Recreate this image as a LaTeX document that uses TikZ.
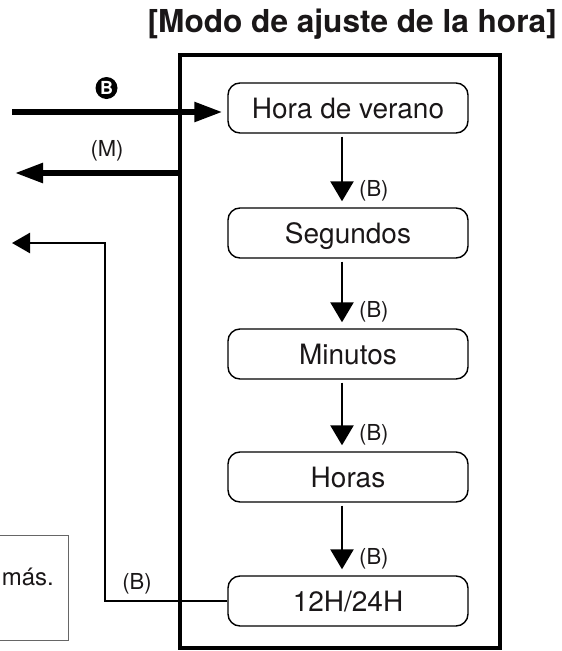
\documentclass[tikz,border=0pt]{standalone}
\usepackage{fontspec}
\setmainfont{TeX Gyre Heros}
\usetikzlibrary{arrows.meta}
\definecolor{ink}{HTML}{1A1718}
\begin{document}
\begin{tikzpicture}[x=1pt,y=-1pt,
  every node/.style={text=ink},
  stepbox/.style={draw=black,line width=1.4pt,rounded corners=12pt,minimum width=240pt,minimum height=50pt,inner sep=0pt,text height=20pt,text depth=0pt,font=\fontsize{28}{30}\selectfont},
  blab/.style={inner sep=0pt,font=\fontsize{22}{24}\selectfont,text height=15.5pt,text depth=0pt},
  midarrow/.style={line width=2.5pt,-{Triangle[length=20pt,width=23pt]}},
  thickarrow/.style={line width=5.5pt,-{Triangle[length=28pt,width=19pt]}},
  retarrow/.style={line width=2.5pt,-{Triangle[length=18pt,width=20pt]}}]
\useasboundingbox (0,0) rectangle (562,651);
% title
\node[anchor=base east,inner sep=0pt,font=\fontsize{31.6}{36}\selectfont\bfseries] (title) at (557,32) {[Modo de ajuste de la hora]};
% frame
\node[draw=black,line width=4pt,minimum width=320pt,minimum height=593pt,inner sep=0pt] (frame) at (340,351.5) {};
% note box (cut off at left)
\draw[draw=black!60,line width=1pt] (-10,535) -- (68,535) -- (68,640) -- (-10,640);
\node[anchor=base east,inner sep=0pt,font=\fontsize{24}{28}\selectfont] (note) at (54,585) {más.};
% steps
\node[stepbox] (hora) at (348,108) {Hora de verano};
\node[stepbox] (seg) at (348,233) {Segundos};
\node[stepbox] (mins) at (348,354) {Minutos};
\node[stepbox] (hrs) at (348,477) {Horas};
\node[stepbox] (t12) at (348,601) {12H/24H};
% vertical arrows
\foreach \a/\b in {hora/seg,seg/mins,mins/hrs,hrs/t12}{
  \draw[midarrow] ([xshift=-6pt,yshift=-3pt]\a.south) -- ([xshift=-6pt,yshift=6pt]\b.north);
  \node[blab,anchor=west] at ([xshift=11pt,yshift=19pt]\b.north) {(B)};
}
% entry arrow
\coordinate (bin) at (12,112);
\draw[thickarrow,shorten >=5pt] (bin) -- (bin -| hora.west);
\node[circle,fill=black,inner sep=0pt,minimum size=22pt,text=white,font=\fontsize{18}{18}\selectfont\bfseries] (bsym) at (106.5,88) {B};
% M exit arrow
\coordinate (mout) at (15,173);
\draw[thickarrow] (mout -| frame.west) -- (mout);
\node[blab] (mlab) at (107,149) {(M)};
% return arrow
\coordinate (rcorner) at (105,243);
\coordinate (rout) at (12,243);
\draw[retarrow] (t12.west) -| (rcorner) -- (rout);
\node[blab] (rlab) at (137,582) {(B)};
\end{tikzpicture}
\end{document}
